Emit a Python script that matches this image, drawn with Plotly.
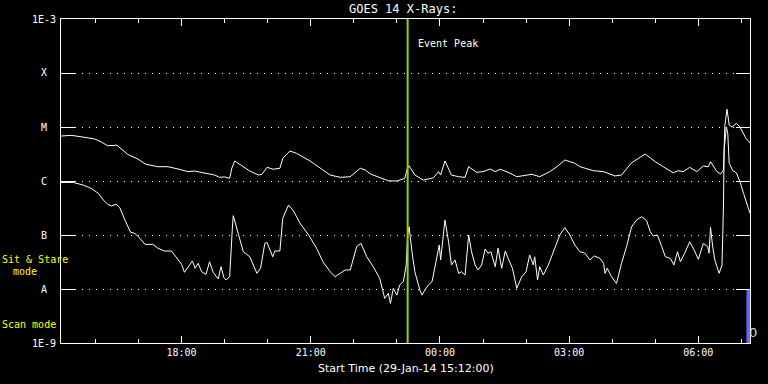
import plotly.graph_objects as go
from datetime import datetime, timedelta

# ---------------- data ----------------
start_time = "2014-01-29 15:12"
end_time = "2014-01-30 07:12"
event_peak_time = "23:15"
scan_mode_start = "07:07"
scan_mode_end = "07:12"
scan_mode_levels = [1e-9, 1e-8]

# long channel (1-8 A)
long_t = ["15:12", "15:26", "15:40", "15:59", "16:08", "16:17", "16:30", "16:45", "16:59", "17:10",
          "17:27", "17:41", "17:55", "18:09", "18:18", "18:32", "18:46", "18:53", "19:00", "19:07",
          "19:10", "19:14", "19:26", "19:35", "19:47", "19:52", "19:59", "20:08", "20:17", "20:21",
          "20:31", "20:40", "20:59", "21:13", "21:27", "21:41", "21:55", "22:09", "22:16", "22:23",
          "22:36", "22:48", "23:00", "23:09", "23:11", "23:14", "23:17", "23:25", "23:37", "23:51",
          "23:58", "00:01", "00:07", "00:16", "00:26", "00:35", "00:40", "00:51", "01:00", "01:10",
          "01:17", "01:24", "01:35", "01:47", "01:59", "02:08", "02:19", "02:33", "02:43", "02:54",
          "03:01", "03:08", "03:15", "03:34", "03:48", "04:04", "04:13", "04:27", "04:46", "05:00",
          "05:11", "05:25", "05:32", "05:39", "05:48", "05:58", "06:07", "06:14", "06:17", "06:26",
          "06:31", "06:35", "06:37", "06:40", "06:43", "06:47", "06:53", "06:58", "07:06", "07:12"]
long_v = [6.8e-6, 7.0e-6, 6.6e-6, 6.0e-6, 5.3e-6, 4.5e-6, 4.6e-6, 3.1e-6, 2.56e-6, 2.04e-6,
          1.84e-6, 1.84e-6, 1.67e-6, 1.49e-6, 1.53e-6, 1.39e-6, 1.29e-6, 1.17e-6, 1.19e-6, 1.12e-6,
          1.72e-6, 2.35e-6, 1.84e-6, 1.53e-6, 1.29e-6, 1.33e-6, 1.79e-6, 1.65e-6, 1.72e-6, 2.63e-6,
          3.59e-6, 3.26e-6, 2.35e-6, 1.72e-6, 1.29e-6, 1.17e-6, 1.20e-6, 1.72e-6, 1.60e-6, 1.35e-6,
          1.17e-6, 1.01e-6, 1.0e-6, 1.07e-6, 1.12e-6, 1.60e-6, 1.92e-6, 1.29e-6, 1.04e-6, 1.15e-6,
          1.49e-6, 1.29e-6, 2.35e-6, 1.29e-6, 1.20e-6, 1.17e-6, 1.84e-6, 1.45e-6, 1.49e-6, 1.67e-6,
          1.49e-6, 1.65e-6, 1.45e-6, 1.20e-6, 1.29e-6, 1.33e-6, 1.20e-6, 1.49e-6, 1.84e-6, 2.45e-6,
          2.28e-6, 2.13e-6, 1.84e-6, 1.55e-6, 1.49e-6, 1.24e-6, 1.29e-6, 2.18e-6, 3.16e-6, 2.28e-6,
          1.84e-6, 1.42e-6, 1.55e-6, 1.49e-6, 1.79e-6, 1.49e-6, 1.90e-6, 1.84e-6, 2.28e-6, 1.49e-6,
          1.35e-6, 1.60e-6, 1.09e-5, 2.13e-5, 1.09e-5, 1.0e-5, 1.17e-5, 1.0e-5, 6.3e-6, 5.05e-6]

# short channel (0.5-4 A)
short_t = ["15:12", "15:29", "15:43", "15:54", "16:04", "16:11", "16:17", "16:22", "16:29", "16:34",
           "16:41", "16:49", "16:55", "17:02", "17:09", "17:20", "17:27", "17:36", "17:46", "17:53",
           "18:00", "18:04", "18:09", "18:15", "18:19", "18:23", "18:28", "18:34", "18:39", "18:44",
           "18:51", "18:55", "18:59", "19:02", "19:07", "19:09", "19:11", "19:12", "19:19", "19:26",
           "19:35", "19:45", "19:50", "19:56", "19:59", "20:07", "20:10", "20:17", "20:21", "20:29",
           "20:36", "20:45", "20:57", "21:08", "21:17", "21:27", "21:34", "21:41", "21:48", "21:55",
           "22:04", "22:10", "22:18", "22:27", "22:36", "22:43", "22:48", "22:51", "22:55", "23:00",
           "23:04", "23:09", "23:13", "23:15", "23:17", "23:21", "23:25", "23:32", "23:35", "23:39",
           "23:44", "23:49", "23:53", "23:59", "00:01", "00:04", "00:07", "00:12", "00:16", "00:21",
           "00:26", "00:30", "00:35", "00:40", "00:44", "00:49", "00:53", "00:58", "01:03", "01:07",
           "01:11", "01:17", "01:21", "01:26", "01:31", "01:35", "01:41", "01:47", "01:54", "02:00",
           "02:05", "02:10", "02:12", "02:16", "02:19", "02:24", "02:31", "02:40", "02:47", "02:54",
           "03:01", "03:08", "03:15", "03:22", "03:29", "03:35", "03:43", "03:48", "03:50", "03:53",
           "03:59", "04:06", "04:13", "04:20", "04:27", "04:34", "04:41", "04:48", "04:53", "04:57",
           "05:03", "05:09", "05:14", "05:21", "05:26", "05:31", "05:35", "05:41", "05:48", "05:54",
           "06:00", "06:07", "06:13", "06:15", "06:17", "06:20", "06:23", "06:29", "06:33", "06:35",
           "06:36", "06:39", "06:41", "06:43", "06:48", "06:53", "06:58", "07:03", "07:12"]
short_v = [9.4e-7, 9.4e-7, 8.4e-7, 7.3e-7, 5.9e-7, 4.45e-7, 3.7e-7, 3.45e-7, 3.7e-7, 3.2e-7,
           1.9e-7, 1.12e-7, 1.07e-7, 8.7e-8, 6.7e-8, 6.7e-8, 5.7e-8, 5.05e-8, 5.05e-8, 3.8e-8,
           2.87e-8, 2.04e-8, 2.48e-8, 3.3e-8, 2.42e-8, 2.99e-8, 2.09e-8, 1.87e-8, 3.2e-8, 2.04e-8,
           1.53e-8, 2.59e-8, 1.62e-8, 1.47e-8, 1.69e-8, 7.5e-8, 1.53e-7, 2.28e-7, 1.0e-7, 4.9e-8,
           3.96e-8, 1.95e-8, 2.42e-8, 7.0e-8, 7.3e-8, 3.96e-8, 5.05e-8, 5.05e-8, 2.04e-7, 3.59e-7,
           2.78e-7, 1.65e-7, 1.0e-7, 5.7e-8, 3.2e-8, 2.09e-8, 1.69e-8, 1.95e-8, 2.25e-8, 2.25e-8,
           6.1e-8, 7.0e-8, 3.96e-8, 2.59e-8, 1.58e-8, 6.7e-9, 8.3e-9, 5.4e-9, 1.03e-8, 7.7e-9,
           1.19e-8, 1.37e-8, 2.78e-8, 1.0e-7, 1.42e-7, 4.9e-8, 2.09e-8, 9.6e-9, 7.7e-9, 9.6e-9,
           1.19e-8, 1.37e-8, 2.42e-8, 6.5e-8, 3.45e-8, 7.5e-8, 1.9e-7, 7.5e-8, 2.78e-8, 3.45e-8,
           1.95e-8, 2.09e-8, 1.82e-8, 1.0e-7, 4.9e-8, 2.78e-8, 2.25e-8, 2.78e-8, 5.5e-8, 4.6e-8,
           4.9e-8, 2.59e-8, 5.7e-8, 2.42e-8, 5.05e-8, 3.7e-8, 2.42e-8, 1.03e-8, 1.69e-8, 2.09e-8,
           4.26e-8, 2.78e-8, 3.96e-8, 1.47e-8, 2.59e-8, 1.82e-8, 2.78e-8, 5.7e-8, 1.0e-7, 1.37e-7,
           1.0e-7, 6.5e-8, 4.9e-8, 4.6e-8, 3.45e-8, 4.1e-8, 3.7e-8, 2.99e-8, 1.95e-8, 2.42e-8,
           1.69e-8, 1.27e-8, 2.99e-8, 6.1e-8, 1.42e-7, 1.9e-7, 2.18e-7, 1.84e-7, 1.15e-7, 9.6e-8,
           1.0e-7, 6.1e-8, 3.96e-8, 3.7e-8, 2.78e-8, 4.9e-8, 3.2e-8, 4.6e-8, 7.5e-8, 5.3e-8,
           3.55e-8, 7.0e-8, 6.1e-8, 4.6e-8, 1.39e-7, 6.1e-8, 3.45e-8, 1.95e-8, 2.78e-8, 3.3e-7,
           3.75e-6, 1.0e-5, 7.6e-6, 2.13e-6, 1.55e-6, 1.42e-6, 9.7e-7, 5.9e-7, 2.52e-7]

y_tick_vals = [1e-9, 1e-8, 1e-7, 1e-6, 1e-5, 1e-4, 1e-3]
y_tick_text = ["1E-9", "A", "B", "C", "M", "X", "1E-3"]
x_tick0 = "2014-01-29 18:00"

title_text = "GOES 14 X-Rays:"
x_title_text = "Start Time (29-Jan-14 15:12:00)"


def to_dt(hhmm):
    h, m = map(int, hhmm.split(":"))
    d = datetime(2014, 1, 29, h, m)
    if h < 15:
        d += timedelta(days=1)
    return d


SANS = "DejaVu Sans"
MONO = "DejaVu Sans Mono"
WHITE = "#ffffff"
YELLOW = "#ffff00"

fig = go.Figure()

# scan-mode bar
s0, s1 = to_dt(scan_mode_start), to_dt(scan_mode_end)
lo, hi = scan_mode_levels
fig.add_trace(go.Scatter(x=[s0, s1, s1, s0, s0], y=[lo, lo, hi, hi, lo], mode="lines",
                         fill="toself", fillcolor="#6464ff",
                         line=dict(width=0, color="#6464ff"), hoverinfo="skip"))

fig.add_trace(go.Scatter(x=[to_dt(t) for t in long_t], y=long_v, mode="lines",
                         line=dict(color=WHITE, width=1)))
fig.add_trace(go.Scatter(x=[to_dt(t) for t in short_t], y=short_v, mode="lines",
                         line=dict(color=WHITE, width=1)))

ev = to_dt(event_peak_time)
fig.add_shape(type="line", x0=ev, x1=ev, xref="x", yref="paper", y0=0, y1=1,
              line=dict(color="#9fcf00", width=2), layer="above")

annotations = []
for v, txt in zip(range(len(y_tick_text)), y_tick_text):
    annotations.append(dict(text=txt, xref="paper", yref="paper", x=0, y=v / 6,
                            xanchor="center", yanchor="middle", xshift=-17, showarrow=False,
                            font=dict(family=MONO, size=10, color=WHITE)))
annotations += [
    dict(text=title_text, xref="paper", yref="paper", x=0.5, y=1, yshift=10, xshift=-3,
         xanchor="center", yanchor="middle", showarrow=False,
         font=dict(family=MONO, size=12, color=WHITE)),
    dict(text=x_title_text, xref="paper", yref="paper", x=0.5, y=0, yshift=-25,
         xanchor="center", yanchor="middle", showarrow=False,
         font=dict(family=SANS, size=11, color=WHITE)),
    dict(text="Event Peak", xref="x", yref="paper", x=ev, y=1, yshift=-24, xshift=8,
         xanchor="left", yanchor="middle", showarrow=False,
         font=dict(family=MONO, size=10, color=WHITE)),
    dict(text="Sit & Stare", xref="paper", yref="paper", x=0, y=0, xshift=-61, yshift=84,
         xanchor="left", yanchor="middle", showarrow=False,
         font=dict(family=MONO, size=10, color=YELLOW)),
    dict(text="mode", xref="paper", yref="paper", x=0, y=0, xshift=-50, yshift=72,
         xanchor="left", yanchor="middle", showarrow=False,
         font=dict(family=MONO, size=10, color=YELLOW)),
    dict(text="Scan mode", xref="paper", yref="paper", x=0, y=0, xshift=-61, yshift=19,
         xanchor="left", yanchor="middle", showarrow=False,
         font=dict(family=MONO, size=10, color=YELLOW)),
    dict(text="0", xref="paper", yref="paper", x=1, y=0, xshift=3, yshift=11,
         xanchor="center", yanchor="middle", showarrow=False,
         font=dict(family=SANS, size=13, color="#dddddd")),
]

fig.update_layout(
    width=768, height=384,
    margin=dict(l=61, r=18, t=19, b=41),
    paper_bgcolor="#000000", plot_bgcolor="#000000",
    showlegend=False,
    annotations=annotations,
    xaxis=dict(type="date", range=[start_time, end_time],
               showline=True, linecolor=WHITE, linewidth=1, mirror="ticks",
               ticks="inside", ticklen=7, tickcolor=WHITE, tickwidth=1,
               tick0=x_tick0, dtick=3 * 3600000, tickformat="%H:%M",
               tickfont=dict(family=MONO, size=10, color=WHITE),
               showgrid=False, zeroline=False,
               minor=dict(ticks="inside", ticklen=4, tickcolor=WHITE, dtick=3600000,
                          tick0=x_tick0, showgrid=False)),
    yaxis=dict(type="log", range=[-9, -3],
               showline=True, linecolor=WHITE, linewidth=1, mirror="ticks",
               ticks="inside", ticklen=14, tickcolor=WHITE, tickwidth=1,
               tickvals=y_tick_vals, showticklabels=False,
               showgrid=True, gridcolor=WHITE, gridwidth=1, griddash="1px,6px",
               zeroline=False),
)

fig.write_html("out.html")
